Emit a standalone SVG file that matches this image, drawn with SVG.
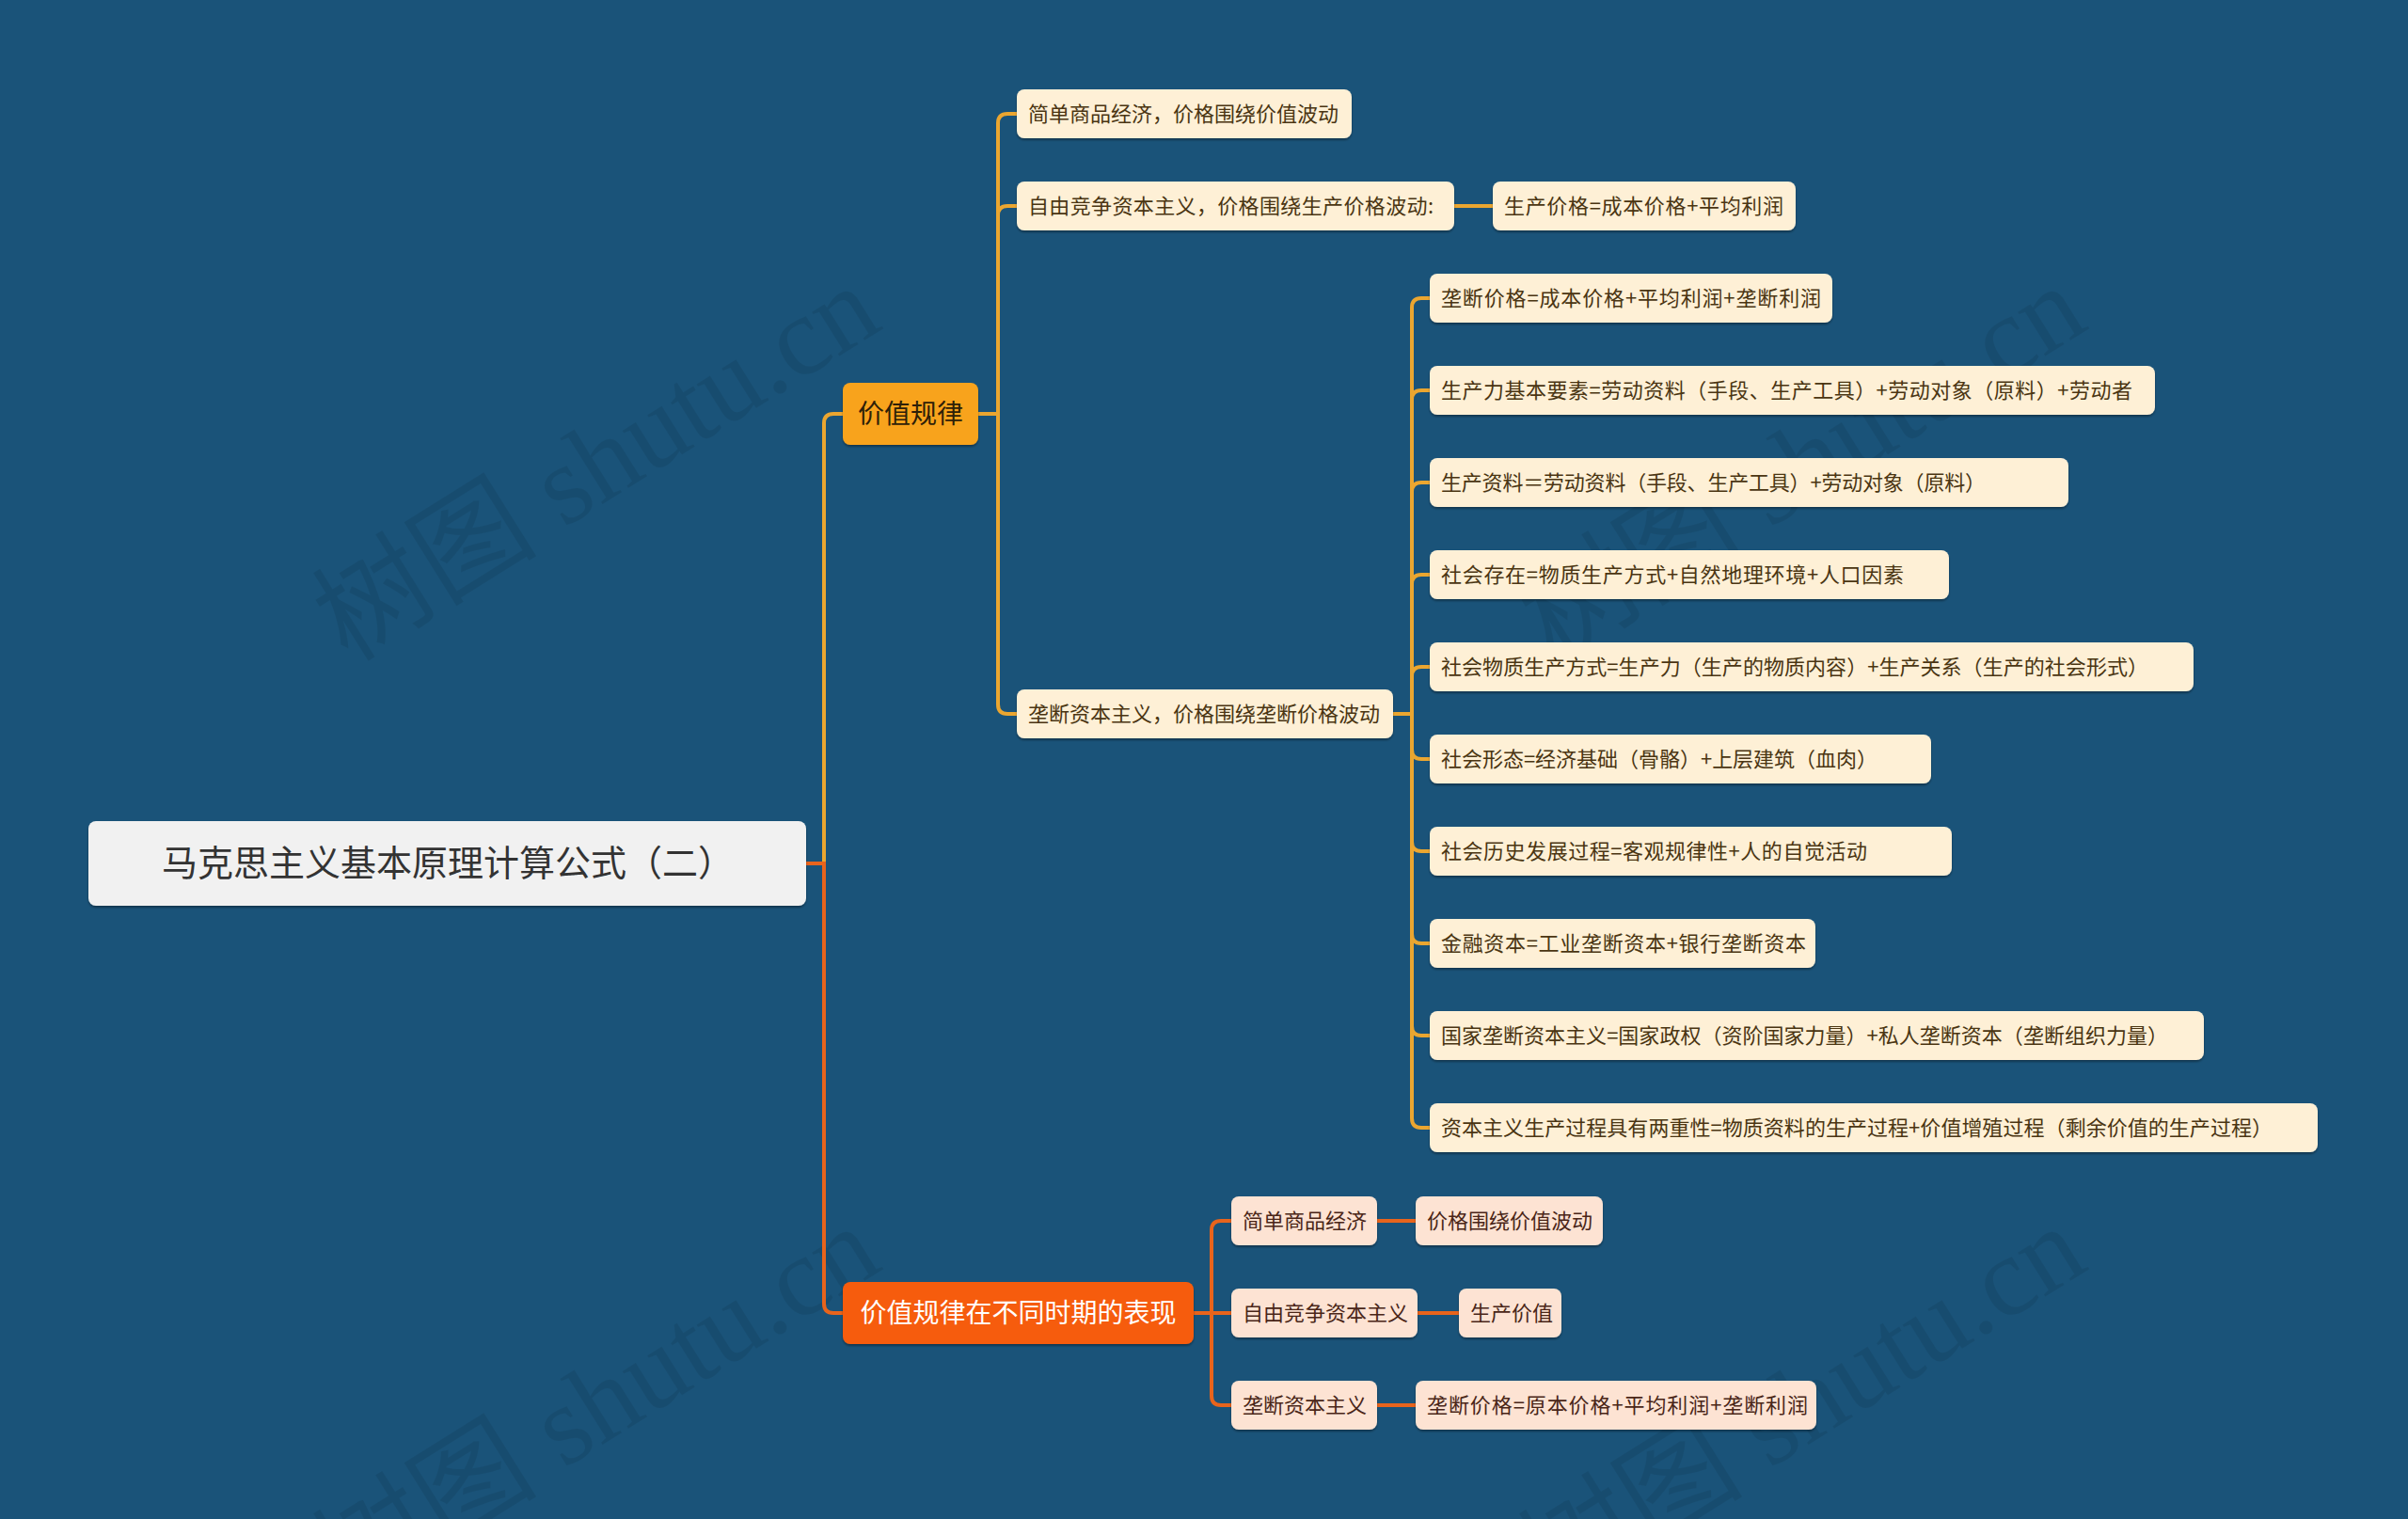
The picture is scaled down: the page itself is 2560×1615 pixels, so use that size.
<svg xmlns="http://www.w3.org/2000/svg" width="2560" height="1615" viewBox="0 0 2560 1615">
<defs>
<filter id="sh" x="-5%" y="-20%" width="110%" height="150%">
<feDropShadow dx="0" dy="2" stdDeviation="1" flood-color="#000" flood-opacity="0.35"/>
</filter>
<style>
text{font-family:"Noto Sans CJK SC","Noto Sans",sans-serif;}
.wm{font-family:"Liberation Serif","Noto Sans CJK SC",serif;font-size:120px;fill:#000;fill-opacity:0.08;}
.root rect{fill:#f1f1f1;filter:url(#sh);}
.root text{font-size:38px;fill:#333;text-anchor:middle;}
.l1a rect{fill:#f8a31c;filter:url(#sh);}
.l1a text{font-size:28px;fill:#2e2008;text-anchor:middle;}
.l1b rect{fill:#f65c0a;filter:url(#sh);}
.l1b text{font-size:28px;fill:#fff;text-anchor:middle;}
.ca rect{fill:#fef0d6;filter:url(#sh);}
.ca text{font-size:22px;fill:#4a3512;}
.cb rect{fill:#fde3d3;filter:url(#sh);}
.cb text{font-size:22px;fill:#4a2618;}
.la{fill:none;stroke:#eba630;stroke-width:4;}
.lb{fill:none;stroke:#e8641c;stroke-width:4;}
</style>
</defs>
<rect width="2560" height="1615" fill="#1a5379"/>

<g id="watermarks">
<text class="wm" transform="translate(370,705) rotate(-32)">树图 shutu.cn</text>
<text class="wm" transform="translate(1652,705) rotate(-32)">树图 shutu.cn</text>
<text class="wm" transform="translate(370,1705) rotate(-32)">树图 shutu.cn</text>
<text class="wm" transform="translate(1652,1705) rotate(-32)">树图 shutu.cn</text>
</g>

<g id="connectors">
<path class="la" d="M857,918 H876 V450 Q876,440 886,440 H896"/>
<path class="la" d="M1040,440 H1061 V131 Q1061,121 1071,121 H1081"/>
<path class="la" d="M1061,440 V229 Q1061,219 1071,219 H1081"/>
<path class="la" d="M1061,440 V749 Q1061,759 1071,759 H1081"/>
<path class="la" d="M1546,219 H1587"/>
<path class="la" d="M1481,759 H1501 V327 Q1501,317 1511,317 H1520"/>
<path class="la" d="M1501,759 V425 Q1501,415 1511,415 H1520"/>
<path class="la" d="M1501,759 V523 Q1501,513 1511,513 H1520"/>
<path class="la" d="M1501,759 V621 Q1501,611 1511,611 H1520"/>
<path class="la" d="M1501,759 V719 Q1501,709 1511,709 H1520"/>
<path class="la" d="M1501,759 V797 Q1501,807 1511,807 H1520"/>
<path class="la" d="M1501,759 V895 Q1501,905 1511,905 H1520"/>
<path class="la" d="M1501,759 V993 Q1501,1003 1511,1003 H1520"/>
<path class="la" d="M1501,759 V1091 Q1501,1101 1511,1101 H1520"/>
<path class="la" d="M1501,759 V1189 Q1501,1199 1511,1199 H1520"/>
<path class="lb" d="M857,918 H876 V1386 Q876,1396 886,1396 H896"/>
<path class="lb" d="M1269,1396 H1288 V1308 Q1288,1298 1298,1298 H1309"/>
<path class="lb" d="M1288,1396 H1309"/>
<path class="lb" d="M1288,1396 V1484 Q1288,1494 1298,1494 H1309"/>
<path class="lb" d="M1464,1298 H1505"/>
<path class="lb" d="M1507,1396 H1551"/>
<path class="lb" d="M1464,1494 H1505"/>
</g>

<g id="root" class="root"><rect x="94" y="873" width="763" height="90" rx="8"/><text x="476" y="931">马克思主义基本原理计算公式（二）</text></g>

<g id="n-jiazhiguilv" class="l1a"><rect x="896" y="407" width="144" height="66" rx="8"/><text x="968" y="450">价值规律</text></g>
<g id="n-biaoxian" class="l1b"><rect x="896" y="1363" width="373" height="66" rx="8"/><text x="1082.5" y="1406">价值规律在不同时期的表现</text></g>

<g id="a1" class="ca"><rect x="1081" y="95" width="356" height="52" rx="8"/><text x="1093" y="129">简单商品经济，价格围绕价值波动</text></g>
<g id="a2" class="ca"><rect x="1081" y="193" width="465" height="52" rx="8"/><text x="1093" y="227" textLength="431" lengthAdjust="spacing">自由竞争资本主义，价格围绕生产价格波动:</text></g>
<g id="a2c" class="ca"><rect x="1587" y="193" width="322" height="52" rx="8"/><text x="1599" y="227" textLength="297" lengthAdjust="spacing">生产价格=成本价格+平均利润</text></g>
<g id="a3" class="ca"><rect x="1081" y="733" width="400" height="52" rx="8"/><text x="1093" y="767">垄断资本主义，价格围绕垄断价格波动</text></g>

<g id="g1" class="ca"><rect x="1520" y="291" width="428" height="52" rx="8"/><text x="1532" y="325" textLength="404" lengthAdjust="spacing">垄断价格=成本价格+平均利润+垄断利润</text></g>
<g id="g2" class="ca"><rect x="1520" y="389" width="771" height="52" rx="8"/><text x="1532" y="423" textLength="735" lengthAdjust="spacing">生产力基本要素=劳动资料（手段、生产工具）+劳动对象（原料）+劳动者</text></g>
<g id="g3" class="ca"><rect x="1520" y="487" width="679" height="52" rx="8"/><text x="1532" y="521" textLength="579" lengthAdjust="spacing">生产资料＝劳动资料（手段、生产工具）+劳动对象（原料）</text></g>
<g id="g4" class="ca"><rect x="1520" y="585" width="552" height="52" rx="8"/><text x="1532" y="619" textLength="492" lengthAdjust="spacing">社会存在=物质生产方式+自然地理环境+人口因素</text></g>
<g id="g5" class="ca"><rect x="1520" y="683" width="812" height="52" rx="8"/><text x="1532" y="717" textLength="752" lengthAdjust="spacing">社会物质生产方式=生产力（生产的物质内容）+生产关系（生产的社会形式）</text></g>
<g id="g6" class="ca"><rect x="1520" y="781" width="533" height="52" rx="8"/><text x="1532" y="815" textLength="464" lengthAdjust="spacing">社会形态=经济基础（骨骼）+上层建筑（血肉）</text></g>
<g id="g7" class="ca"><rect x="1520" y="879" width="555" height="52" rx="8"/><text x="1532" y="913" textLength="453" lengthAdjust="spacing">社会历史发展过程=客观规律性+人的自觉活动</text></g>
<g id="g8" class="ca"><rect x="1520" y="977" width="410" height="52" rx="8"/><text x="1532" y="1011" textLength="388" lengthAdjust="spacing">金融资本=工业垄断资本+银行垄断资本</text></g>
<g id="g9" class="ca"><rect x="1520" y="1075" width="823" height="52" rx="8"/><text x="1532" y="1109" textLength="773" lengthAdjust="spacing">国家垄断资本主义=国家政权（资阶国家力量）+私人垄断资本（垄断组织力量）</text></g>
<g id="g10" class="ca"><rect x="1520" y="1173" width="944" height="52" rx="8"/><text x="1532" y="1207" textLength="884" lengthAdjust="spacing">资本主义生产过程具有两重性=物质资料的生产过程+价值增殖过程（剩余价值的生产过程）</text></g>

<g id="b1" class="cb"><rect x="1309" y="1272" width="155" height="52" rx="8"/><text x="1321" y="1306">简单商品经济</text></g>
<g id="b1c" class="cb"><rect x="1505" y="1272" width="199" height="52" rx="8"/><text x="1517" y="1306">价格围绕价值波动</text></g>
<g id="b2" class="cb"><rect x="1309" y="1370" width="198" height="52" rx="8"/><text x="1321" y="1404">自由竞争资本主义</text></g>
<g id="b2c" class="cb"><rect x="1551" y="1370" width="109" height="52" rx="8"/><text x="1563" y="1404">生产价值</text></g>
<g id="b3" class="cb"><rect x="1309" y="1468" width="155" height="52" rx="8"/><text x="1321" y="1502">垄断资本主义</text></g>
<g id="b3c" class="cb"><rect x="1505" y="1468" width="426" height="52" rx="8"/><text x="1517" y="1502" textLength="405" lengthAdjust="spacing">垄断价格=原本价格+平均利润+垄断利润</text></g>
</svg>
